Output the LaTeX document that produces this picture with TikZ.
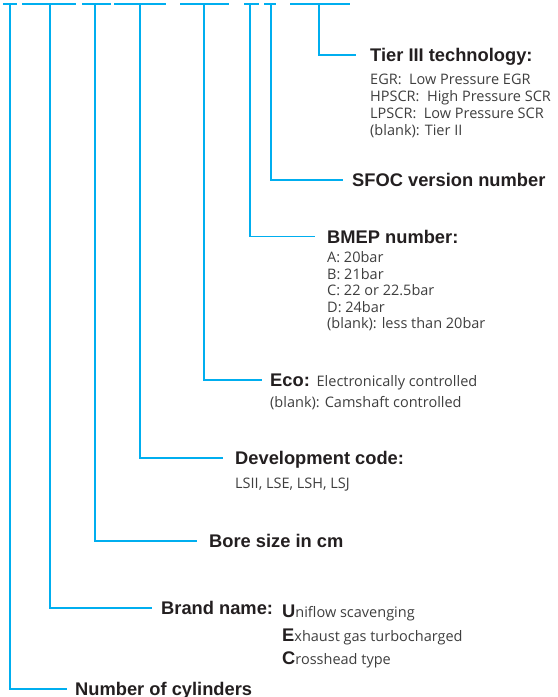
\documentclass[tikz,border=0pt]{standalone}
\usepackage{fontspec}
\setmainfont{Open Sans}
\newfontfamily\headfont{Liberation Sans}
\definecolor{leadc}{RGB}{0,174,239}
\definecolor{headc}{RGB}{35,31,32}
\definecolor{bodyc}{RGB}{62,62,62}
\newcommand{\capletter}[1]{{\headfont\bfseries\fontsize{18.3bp}{21bp}\selectfont\color{headc}#1}}
\tikzset{
    lead/.style={color=leadc, line width=1.2bp},
    bar/.style={color=leadc, line width=1.8bp},
    head/.style={font=\headfont\bfseries\fontsize{18.3bp}{21bp}\selectfont, text=headc,
        inner sep=0pt, anchor=west, text height=13.1bp, text depth=0pt},
    body/.style={font=\fontsize{14.5bp}{#1}\selectfont, text=bodyc,
        inner sep=0pt, anchor=base west, align=left},
    body/.default=17bp
}
\begin{document}
\begin{tikzpicture}[x=1bp, y=-1bp]
        \useasboundingbox (0,0) rectangle (558,697);
        % the places of the designation
        \foreach \a/\b/\c/\n in {3/16.7/10/cyl, 22/76/50/brand, 82/110.7/95/bore, 114/166/140/dev,
            180/229/204/eco, 244/259/250/bmep, 264/276/271/sfoc, 290/350/319/tier}
        {
            \draw[bar] (\a,4) -- (\b,4);
            \coordinate (top-\n) at (\c,4);
        }
        % lists sit on the baseline of their last line
        \node[head] (tier) at (370,55) {Tier III technology:};
        \node[body] (tier-list) at (370,136) {EGR:\ \ Low Pressure EGR\\HPSCR:\ \ High Pressure SCR\\LPSCR:\ \ Low Pressure SCR\\(blank): Tier II};
        \node[head] (sfoc) at (352,180) {SFOC version number};
        \node[head] (bmep) at (327,236.5) {BMEP number:};
        \node[body=16.5bp] (bmep-list) at (327,328.5) {A: 20bar\\B: 21bar\\C: 22 or 22.5bar\\D: 24bar\\(blank): less than 20bar};
        \node[head] (eco) at (270,380) {Eco: {\normalfont\fontsize{14.5bp}{17bp}\selectfont\color{bodyc}Electronically controlled}};
        \node[body] (eco-list) at (270,407) {(blank): Camshaft controlled};
        \node[head] (dev) at (235,458) {Development code:};
        \node[body] (dev-list) at (235,488) {LSII, LSE, LSH, LSJ};
        \node[head] (bore) at (209,541) {Bore size in cm};
        \node[head] (brand) at (161,608) {Brand name:};
        \node[body=23.5bp] (brand-list) at (282,664.5) {\capletter{U}niflow scavenging\\\capletter{E}xhaust gas turbocharged\\\capletter{C}rosshead type};
        \node[head] (cyl) at (75,689) {Number of cylinders};
        % leaders from the places down to their meaning
        \foreach \n/\g in {tier/14, sfoc/9, bmep/12, eco/8, dev/12, bore/12, brand/9, cyl/8}
            \draw[lead, shorten >=\g bp] (top-\n) |- (\n.west);
    \end{tikzpicture}
\end{document}
